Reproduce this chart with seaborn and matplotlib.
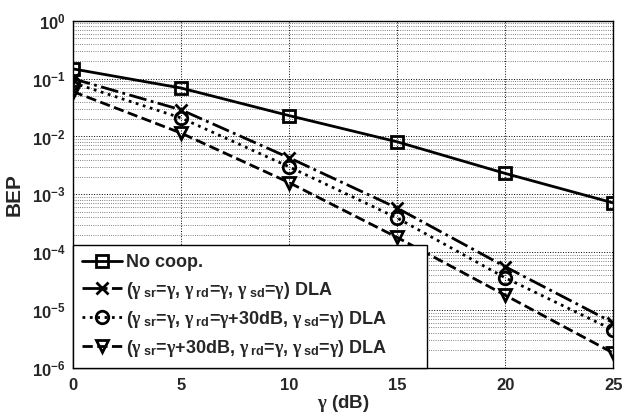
import numpy as np
import pandas as pd
import matplotlib
matplotlib.use("Agg")
import matplotlib.pyplot as plt
import seaborn as sns

gamma_db = [0, 5, 10, 15, 20, 25]
bep_nocoop = [0.148, 0.069, 0.023, 0.0081, 0.0023, 7.1e-4]
bep_dla_equal = [0.10, 0.029, 0.0043, 5.8e-4, 5.6e-5, 6.0e-6]
bep_dla_rd30 = [0.085, 0.021, 0.0030, 3.9e-4, 3.6e-5, 4.5e-6]
bep_dla_sr30 = [0.060, 0.0115, 0.0016, 1.8e-4, 1.8e-5, 1.8e-6]

labels = [
    "No coop.",
    r"($\gamma_{\;\mathbf{sr}}$=$\gamma$, $\gamma_{\;\mathbf{rd}}$=$\gamma$, $\gamma_{\;\mathbf{sd}}$=$\gamma$) DLA",
    r"($\gamma_{\;\mathbf{sr}}$=$\gamma$, $\gamma_{\;\mathbf{rd}}$=$\gamma$+30dB, $\gamma_{\;\mathbf{sd}}$=$\gamma$) DLA",
    r"($\gamma_{\;\mathbf{sr}}$=$\gamma$+30dB, $\gamma_{\;\mathbf{rd}}$=$\gamma$, $\gamma_{\;\mathbf{sd}}$=$\gamma$) DLA",
]

sns.set_style("white")
plt.rcParams['font.family'] = ['Liberation Sans', 'DejaVu Sans']
plt.rcParams['font.weight'] = 'bold'
plt.rcParams['mathtext.fontset'] = 'custom'
plt.rcParams['mathtext.rm'] = 'Liberation Serif'
plt.rcParams['mathtext.it'] = 'Liberation Serif'
plt.rcParams['mathtext.bf'] = 'Liberation Sans:bold'

fig = plt.figure(figsize=(6.22, 4.17), dpi=100)
ax = fig.add_axes([0.117, 0.118, 0.869, 0.832])

series = [bep_nocoop, bep_dla_equal, bep_dla_rd30, bep_dla_sr30]
markers = ['s', 'x', 'o', 'v']
styles = ['-', '-.', ':', '--']
for vals, lab, mk, ls in zip(series, labels, markers, styles):
    sns.lineplot(x=gamma_db, y=vals, ax=ax, label=lab, color='black',
                 linestyle=ls, linewidth=2, marker=mk, markersize=9,
                 markerfacecolor='none', markeredgecolor='black',
                 markeredgewidth=2)

ax.set_yscale('log')
ax.set_xlim(0, 25)
ax.set_ylim(1e-6, 1)
ax.set_xticks([0, 5, 10, 15, 20, 25])
ax.set_yticks([10.0 ** k for k in range(-6, 1)])
ax.grid(True, which='major', linestyle=':', color='black', linewidth=0.7)
ax.grid(True, which='minor', axis='y', linestyle=':', color='#555555', linewidth=0.6)
ax.tick_params(labelsize=12, direction='in', pad=5)
ax.tick_params(axis='x', pad=7)
for t in ax.get_xticklabels() + ax.get_yticklabels():
    t.set_fontweight('bold')
for s in ax.spines.values():
    s.set_color('black')
    s.set_linewidth(1)

ax.set_xlabel(r"$\gamma$ (dB)", fontsize=13.5, fontweight='bold', labelpad=0)
ax.set_ylabel("BEP", fontsize=15, fontweight='bold', labelpad=6)

leg = ax.legend(loc='lower left', bbox_to_anchor=(0, 0, 0.656, 0.3),
                mode='expand', borderaxespad=0, fancybox=False,
                edgecolor='black', framealpha=1, handlelength=2.2,
                handletextpad=0.25, borderpad=0.5,
                prop={'size': 13, 'weight': 'bold'}, labelspacing=0.45)
leg.get_frame().set_linewidth(1)

fig.savefig("out.png", dpi=100)
